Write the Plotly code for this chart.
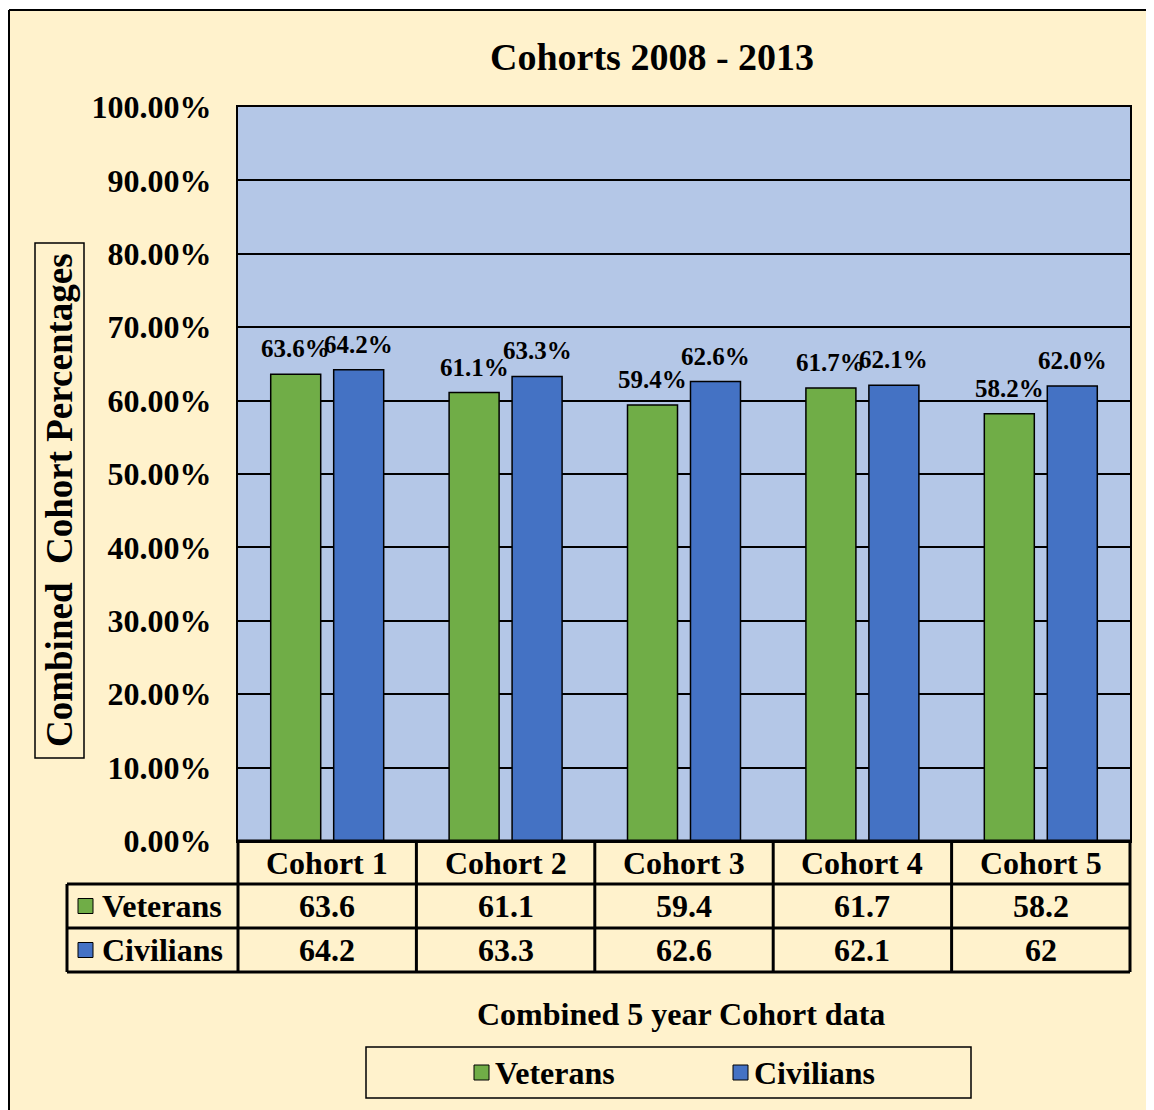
import plotly.graph_objects as go

categories = ["Cohort 1", "Cohort 2", "Cohort 3", "Cohort 4", "Cohort 5"]
veterans = [63.6, 61.1, 59.4, 61.7, 58.2]
civilians = [64.2, 63.3, 62.6, 62.1, 62.0]
veterans_table = ["63.6", "61.1", "59.4", "61.7", "58.2"]
civilians_table = ["64.2", "63.3", "62.6", "62.1", "62"]
series_names = ["Veterans", "Civilians"]
y_ticks = [0, 10, 20, 30, 40, 50, 60, 70, 80, 90, 100]
y_tick_labels = ["%.2f%%" % v for v in y_ticks]

OFF = 8  # page body margin
W, H = 1154, 1110 - OFF
L, T = 238 - OFF, 107 - OFF
PW, PH = 892, 734
R = W - L - PW
B = H - T - PH
GREEN = "#70AD47"
BLUE = "#4472C4"
CREAM = "#FFF2CC"
FONT = "Liberation Serif"


def px(x):
    # x in page pixels
    return (x - OFF - L) / PW


def py(y):
    return (T + PH - (y - OFF)) / PH


fig = go.Figure()
fig.add_trace(go.Bar(x=categories, y=veterans, name=series_names[0],
                     marker=dict(color=GREEN, line=dict(color="black", width=1.5))))
fig.add_trace(go.Bar(x=categories, y=civilians, name=series_names[1],
                     marker=dict(color=BLUE, line=dict(color="black", width=1.5))))

shapes = []
annotations = []

# white strip above the chart border, border lines
shapes.append(dict(type="rect", xref="paper", yref="paper", x0=px(0), x1=px(1200), y0=py(0), y1=py(10),
                   fillcolor="white", line=dict(width=0), layer="above"))
shapes.append(dict(type="line", xref="paper", yref="paper", x0=px(9), x1=px(1200), y0=py(10), y1=py(10),
                   line=dict(color="black", width=2)))
shapes.append(dict(type="line", xref="paper", yref="paper", x0=px(9), x1=px(9), y0=py(10), y1=py(1200),
                   line=dict(color="black", width=2)))

# title
annotations.append(dict(text="<b>Cohorts 2008 - 2013</b>", xref="paper", yref="paper", x=px(652), y=py(57),
                        showarrow=False, xanchor="center", yanchor="middle",
                        font=dict(family=FONT, size=38, color="black")))

# y axis title with box
shapes.append(dict(type="rect", xref="paper", yref="paper", x0=px(35), x1=px(84), y0=py(243), y1=py(758),
                   line=dict(color="black", width=1.5), fillcolor="rgba(0,0,0,0)"))
annotations.append(dict(text="<b>Combined  Cohort Percentages</b>", xref="paper", yref="paper",
                        x=px(59), y=py(500), textangle=-90, showarrow=False,
                        xanchor="center", yanchor="middle",
                        font=dict(family=FONT, size=37, color="black")))

# data labels
for i, c in enumerate(categories):
    for vals, shift in ((veterans, -31.5), (civilians, 31.5)):
        annotations.append(dict(text="<b>%.1f%%</b>" % vals[i], x=c, y=vals[i], xref="x", yref="y",
                                xshift=shift, yshift=10, showarrow=False, xanchor="center", yanchor="bottom",
                                font=dict(family=FONT, size=25, color="black")))

# data table (page coordinates)
col_x = [238 + PW * k / len(categories) for k in range(len(categories) + 1)]
row_y = [841, 884, 928, 972]
lw = 3
shapes.append(dict(type="line", xref="paper", yref="paper", x0=px(238), x1=px(1130), y0=py(row_y[0]), y1=py(row_y[0]),
                   line=dict(color="black", width=lw)))
for yy in row_y[1:]:
    shapes.append(dict(type="line", xref="paper", yref="paper", x0=px(67), x1=px(1130), y0=py(yy), y1=py(yy),
                       line=dict(color="black", width=lw)))
for xx in col_x:
    shapes.append(dict(type="line", xref="paper", yref="paper", x0=px(xx), x1=px(xx), y0=py(row_y[0]), y1=py(row_y[3]),
                       line=dict(color="black", width=lw)))
shapes.append(dict(type="line", xref="paper", yref="paper", x0=px(67), x1=px(67), y0=py(row_y[1]), y1=py(row_y[3]),
                   line=dict(color="black", width=lw)))

row_texts = [categories, veterans_table, civilians_table]
for r, texts in enumerate(row_texts):
    yc = (row_y[r] + row_y[r + 1]) / 2
    for k, t in enumerate(texts):
        xc = (col_x[k] + col_x[k + 1]) / 2
        annotations.append(dict(text="<b>%s</b>" % t, xref="paper", yref="paper", x=px(xc), y=py(yc),
                                showarrow=False, xanchor="center", yanchor="middle",
                                font=dict(family=FONT, size=32, color="black")))

for r, (name, col) in enumerate(zip(series_names, [GREEN, BLUE])):
    yc = (row_y[r + 1] + row_y[r + 2]) / 2
    shapes.append(dict(type="rect", xref="paper", yref="paper", x0=px(78), x1=px(93), y0=py(yc - 7.5), y1=py(yc + 7.5),
                       fillcolor=col, line=dict(color="black", width=1)))
    annotations.append(dict(text="<b>%s</b>" % name, xref="paper", yref="paper", x=px(100), y=py(yc),
                            showarrow=False, xanchor="left", yanchor="middle",
                            font=dict(family=FONT, size=32, color="black")))

# x axis title
annotations.append(dict(text="<b>Combined 5 year Cohort data</b>", xref="paper", yref="paper", x=px(681), y=py(1014),
                        showarrow=False, xanchor="center", yanchor="middle",
                        font=dict(family=FONT, size=32, color="black")))

# legend
shapes.append(dict(type="rect", xref="paper", yref="paper", x0=px(366), x1=px(971), y0=py(1047), y1=py(1098),
                   line=dict(color="black", width=1.5), fillcolor="rgba(0,0,0,0)"))
for name, col, xs in zip(series_names, [GREEN, BLUE], [474, 733]):
    shapes.append(dict(type="rect", xref="paper", yref="paper", x0=px(xs), x1=px(xs + 15), y0=py(1065), y1=py(1080),
                       fillcolor=col, line=dict(color="black", width=1)))
    annotations.append(dict(text="<b>%s</b>" % name, xref="paper", yref="paper", x=px(xs + 19), y=py(1073),
                            showarrow=False, xanchor="left", yanchor="middle",
                            font=dict(family=FONT, size=32, color="black")))

fig.update_layout(
    width=W, height=H,
    margin=dict(l=L, r=R, t=T, b=B, pad=0),
    paper_bgcolor=CREAM, plot_bgcolor="#B4C7E7",
    barmode="group", bargap=0.294, bargroupgap=0.206,
    showlegend=False,
    shapes=shapes, annotations=annotations,
    font=dict(family=FONT, color="black"),
)
fig.update_xaxes(showticklabels=False, showgrid=False, showline=True, mirror=True,
                 linecolor="black", linewidth=2, ticks="")
fig.update_yaxes(range=[0, 100], tickvals=y_ticks, ticktext=["<b>%s</b>" % t for t in y_tick_labels],
                 tickfont=dict(family=FONT, size=32, color="black"),
                 showgrid=True, gridcolor="black", gridwidth=1.5,
                 showline=True, mirror=True, linecolor="black", linewidth=2,
                 ticks="outside", ticklen=18, tickcolor="rgba(0,0,0,0)", zeroline=False)

fig.write_html("out.html")
